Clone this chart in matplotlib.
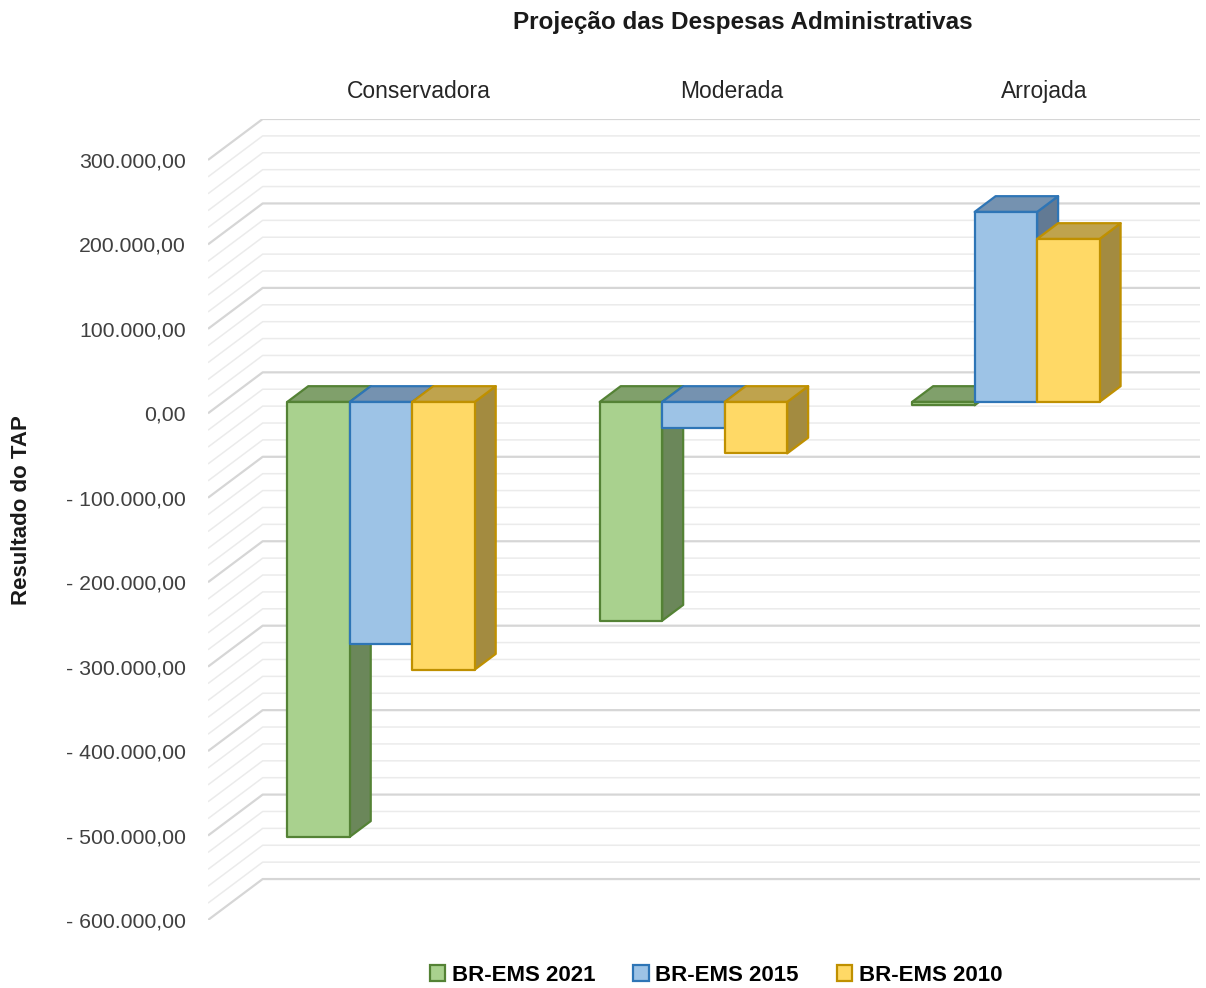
"""
Projeção das Despesas Administrativas — colunas 3D agrupadas (estilo Excel)
desenhadas em 2D com projeção oblíqua.
"""

import matplotlib
matplotlib.use("Agg")
import matplotlib.pyplot as plt
from matplotlib.patches import Polygon, Patch

plt.rcParams["font.family"] = ["Liberation Sans", "DejaVu Sans"]

# ── dados (milhares de R$) ────────────────────────────────────────────────────
CATEGORIES  = ["Conservadora", "Moderada", "Arrojada"]
SERIES      = ["BR-EMS 2021", "BR-EMS 2015", "BR-EMS 2010"]
BR_EMS_2021 = [-515, -259, -4]
BR_EMS_2015 = [-287, -31, 225]
BR_EMS_2010 = [-317, -61, 193]
VALUES      = [BR_EMS_2021, BR_EMS_2015, BR_EMS_2010]
Y_MIN, Y_MAX, Y_STEP, Y_MINOR = -600, 300, 100, 20

# ── estilo ────────────────────────────────────────────────────────────────────
FRONT = ["#A9D18E", "#9DC3E6", "#FFD966"]
EDGE  = ["#548235", "#2E75B6", "#BF9000"]
TOP   = ["#80A06B", "#7592B0", "#BFA34D"]
SIDE  = ["#6B875A", "#627A94", "#A38B40"]

DX, DY = 0.175, 48.5        # vetor de profundidade total (unid. x, milhares)
F0, F1 = 0.278, 0.662       # frente / fundo das colunas (fração da profundidade)
BAR_W, CLUSTER_OFF = 0.2, 0.205

W, H = 1206, 988
fig = plt.figure(figsize=(W / 100, H / 100), dpi=100)
fig.patch.set_facecolor("white")

ax = fig.add_axes([208 / W, 1 - 920 / H, (1200 - 208) / W, (920 - 119) / H])
ax.set_xlim(0, len(CATEGORIES) + DX)
ax.set_ylim(Y_MIN, Y_MAX + DY)
for s in ax.spines.values():
    s.set_visible(False)
ax.set_xticks([])


# grade: parede lateral (diagonal) + parede do fundo
for v in range(Y_MIN, Y_MAX + 1, Y_MINOR):
    major = v % Y_STEP == 0
    ax.plot([0, DX, len(CATEGORIES) + DX], [v, v + DY, v + DY],
            color="#D6D6D6" if major else "#EBEBEB",
            lw=1.6 if major else 1.1, zorder=1, solid_capstyle="butt")


def fmt_br(v: float) -> str:
    s = f"{abs(v):,.2f}".replace(",", "X").replace(".", ",").replace("X", ".")
    return f"- {s}" if v < 0 else s


yt = list(range(Y_MIN, Y_MAX + 1, Y_STEP))
ax.set_yticks(yt)
ax.set_yticklabels([fmt_br(v * 1000) for v in yt], fontsize=15.3, color="#404040")
ax.tick_params(axis="y", length=0, pad=16)

# colunas
ddx, ddy = (F1 - F0) * DX, (F1 - F0) * DY
z = 3
for i, cat in enumerate(CATEGORIES):
    for j, series in enumerate(VALUES):
        v = series[i]
        x0 = i + CLUSTER_OFF + BAR_W * j + F0 * DX
        x1 = x0 + BAR_W
        b = F0 * DY
        lo, hi = b + min(0, v), b + max(0, v)
        kw = dict(edgecolor=EDGE[j], linewidth=1.6, joinstyle="round", zorder=z)
        front = Polygon([(x0, lo), (x1, lo), (x1, hi), (x0, hi)],
                        facecolor=FRONT[j], **kw)
        top = Polygon([(x0, hi), (x1, hi), (x1 + ddx, hi + ddy), (x0 + ddx, hi + ddy)],
                      facecolor=TOP[j], **kw)
        side = Polygon([(x1, lo), (x1 + ddx, lo + ddy), (x1 + ddx, hi + ddy), (x1, hi)],
                       facecolor=SIDE[j], **kw)
        for p in (side, top, front):
            ax.add_patch(p)
        z += 1

    ax.text(i + 0.5 + DX, Y_MAX + DY + 33, cat, ha="center", va="center",
            fontsize=16.5, color="#262626", clip_on=False)

fig.text(743 / W, 1 - 22 / H, "Projeção das Despesas Administrativas",
         ha="center", va="center", fontsize=17.5, fontweight="bold", color="#1a1a1a")
fig.text(22 / W, 1 - 510 / H, "Resultado do TAP", rotation=90,
         ha="center", va="center", fontsize=16, fontweight="bold", color="#1a1a1a")

handles = [Patch(facecolor=FRONT[j], edgecolor=EDGE[j], linewidth=1.6, label=s)
           for j, s in enumerate(SERIES)]
leg = fig.legend(handles=handles, loc="center", bbox_to_anchor=(716 / W, 1 - 975 / H),
                 ncol=3, frameon=False, handlelength=0.7, handleheight=0.7,
                 handletextpad=0.3, columnspacing=1.7,
                 prop={"size": 16, "weight": "bold"})

fig.savefig("out.png", dpi=100, facecolor=fig.get_facecolor())
